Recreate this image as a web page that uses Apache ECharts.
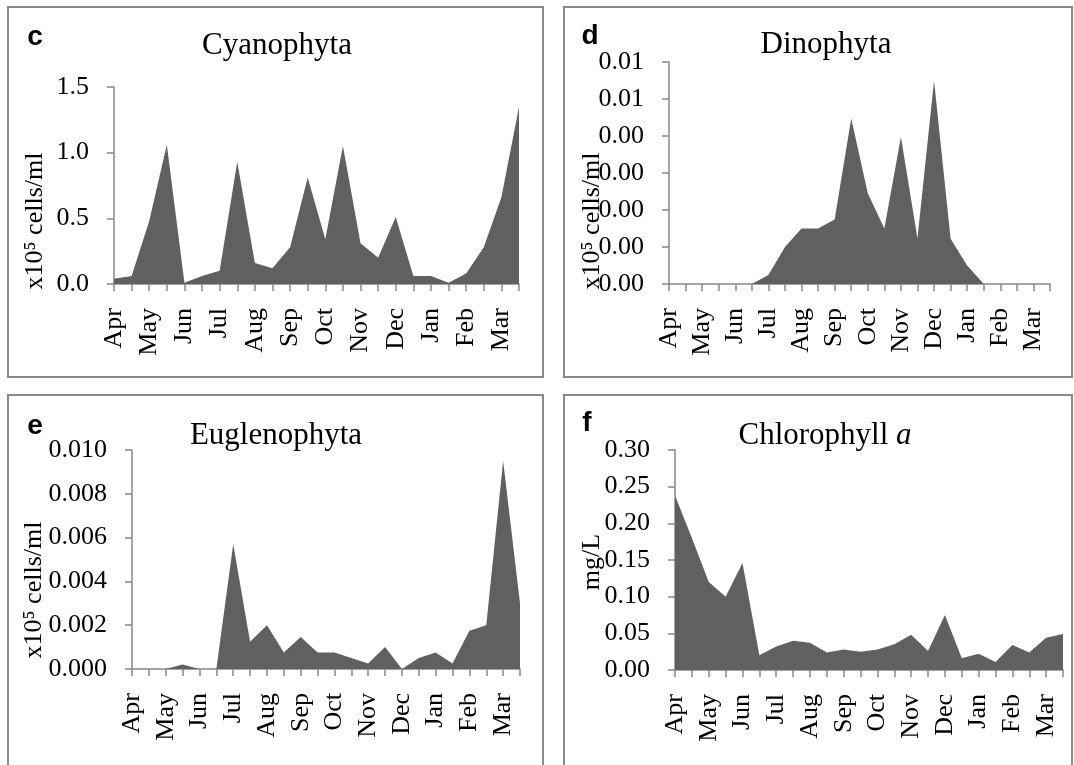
<!DOCTYPE html>
<html>
<head>
<meta charset="utf-8">
<script src="https://cdn.jsdelivr.net/npm/echarts@6/dist/echarts.min.js"></script>
<style>
  html, body { margin: 0; padding: 0; background: #fff; }
  #main { width: 1074px; height: 765px; }
</style>
</head>
<body>
<div id="main"></div>
<script>
// two samples per month, Apr -> Mar
var months = ['Apr', 'May', 'Jun', 'Jul', 'Aug', 'Sep', 'Oct', 'Nov', 'Dec', 'Jan', 'Feb', 'Mar'];
var categories = [];
months.forEach(function (m) { categories.push(m); categories.push(m + ' 2'); });

// x10^5 cells/ml
var cyanophyta = [0.04, 0.06, 0.48, 1.06, 0.01, 0.06, 0.10, 0.93, 0.16, 0.12, 0.28, 0.81,
                  0.34, 1.05, 0.31, 0.20, 0.51, 0.06, 0.06, 0.01, 0.08, 0.28, 0.66, 1.35];
var dinophyta = [0, 0, 0, 0, 0, 0, 0.00024, 0.0010, 0.0015, 0.0015, 0.00174, 0.00447,
                 0.00245, 0.0015, 0.00397, 0.00123, 0.00549, 0.00122, 0.0005, 0, 0, 0, 0, 0];
var euglenophyta = [0, 0, 0, 0.0002, 0, 0, 0.0057, 0.00125, 0.0020, 0.00075, 0.00146, 0.00075,
                    0.00075, 0.0005, 0.00025, 0.0010, 0, 0.0005, 0.00075, 0.00025, 0.00175, 0.0020, 0.0095, 0.0030];
// mg/L
var chlorophyll = [0.238, 0.18, 0.12, 0.10, 0.146, 0.020, 0.032, 0.040, 0.037, 0.024, 0.028, 0.025,
                   0.028, 0.035, 0.048, 0.026, 0.075, 0.016, 0.022, 0.011, 0.034, 0.024, 0.044, 0.049];

var serif = '"Liberation Serif", "Times New Roman", "DejaVu Serif", serif';
var sans = '"Liberation Sans", Arial, sans-serif';
var axisGray = '#888888';
var fillGray = '#606060';

var grids = [
  { left: 114, top: 87, width: 405, height: 197 },
  { left: 669, top: 62, width: 381, height: 222 },
  { left: 132, top: 450, width: 388, height: 219 },
  { left: 675, top: 450, width: 388, height: 220 }
];

function xAx(i) {
  return {
    type: 'category', gridIndex: i, data: categories, boundaryGap: false,
    axisLine: { lineStyle: { color: axisGray, width: 1.5 } },
    axisTick: { interval: 0, length: 7, lineStyle: { color: axisGray, width: 1.5 } },
    axisLabel: { interval: 1, rotate: 90, margin: 24, color: '#000', fontFamily: serif, fontSize: 26 },
    splitLine: { show: false }
  };
}
function yAx(i, max, step, dec) {
  return {
    type: 'value', gridIndex: i, min: 0, max: max, interval: step,
    axisLine: { show: true, lineStyle: { color: axisGray, width: 1.5 } },
    axisTick: { show: true, length: 7, lineStyle: { color: axisGray, width: 1.5 } },
    axisLabel: { margin: 25, color: '#000', fontFamily: serif, fontSize: 26,
      formatter: function (v) { return v.toFixed(dec); } },
    splitLine: { show: false }
  };
}
function area(i, data) {
  return {
    type: 'line', xAxisIndex: i, yAxisIndex: i, data: data,
    showSymbol: false, symbol: 'none',
    lineStyle: { width: 0 },
    areaStyle: { color: fillGray, opacity: 1 }
  };
}
function box(x, y, w, h) {
  return { type: 'rect', shape: { x: x, y: y, width: w, height: h },
    style: { fill: 'none', stroke: '#8a8a8a', lineWidth: 2 }, silent: true };
}
function txt(x, y, s, font, rot) {
  return { type: 'text', x: x, y: y, rotation: rot || 0,
    style: { text: s, font: font, fill: '#000', align: 'center', verticalAlign: 'middle' }, silent: true };
}

var myChart = echarts.init(document.getElementById('main'));
var option = {
  animation: false,
  backgroundColor: '#fff',
  grid: grids,
  xAxis: [xAx(0), xAx(1), xAx(2), xAx(3)],
  yAxis: [yAx(0, 1.5, 0.5, 1), yAx(1, 0.006, 0.001, 2), yAx(2, 0.010, 0.002, 3), yAx(3, 0.30, 0.05, 2)],
  series: [area(0, cyanophyta), area(1, dinophyta), area(2, euglenophyta), area(3, chlorophyll)],
  graphic: [
    box(8, 7, 535, 370), box(564, 7, 508, 370),
    box(8, 395, 535, 385), box(564, 395, 508, 385),
    // panel letters
    txt(35, 37, 'c', 'bold 28px ' + sans),
    txt(590, 36, 'd', 'bold 28px ' + sans),
    txt(35, 426, 'e', 'bold 28px ' + sans),
    txt(587, 423, 'f', 'bold 28px ' + sans),
    // titles
    txt(277, 46, 'Cyanophyta', '31px ' + serif),
    txt(826, 45, 'Dinophyta', '31px ' + serif),
    txt(276, 436, 'Euglenophyta', '31px ' + serif),
    {
      type: 'text', x: 825, y: 436, silent: true,
      style: {
        text: '{n|Chlorophyll }{i|a}', align: 'center', verticalAlign: 'middle',
        rich: {
          n: { fontFamily: serif, fontSize: 31, fill: '#000' },
          i: { fontFamily: serif, fontSize: 31, fontStyle: 'italic', fill: '#000' }
        }
      }
    },
    // axis titles
    txt(35, 221, 'x10\u2075 cells/ml', '26px ' + serif, Math.PI / 2),
    txt(592, 221, 'x10\u2075 cells/ml', '26px ' + serif, Math.PI / 2),
    txt(34, 590, 'x10\u2075 cells/ml', '26px ' + serif, Math.PI / 2),
    txt(592, 562, 'mg/L', '26px ' + serif, Math.PI / 2)
  ]
};
myChart.setOption(option);
window.addEventListener('resize', function () { myChart.resize(); });
</script>
</body>
</html>
